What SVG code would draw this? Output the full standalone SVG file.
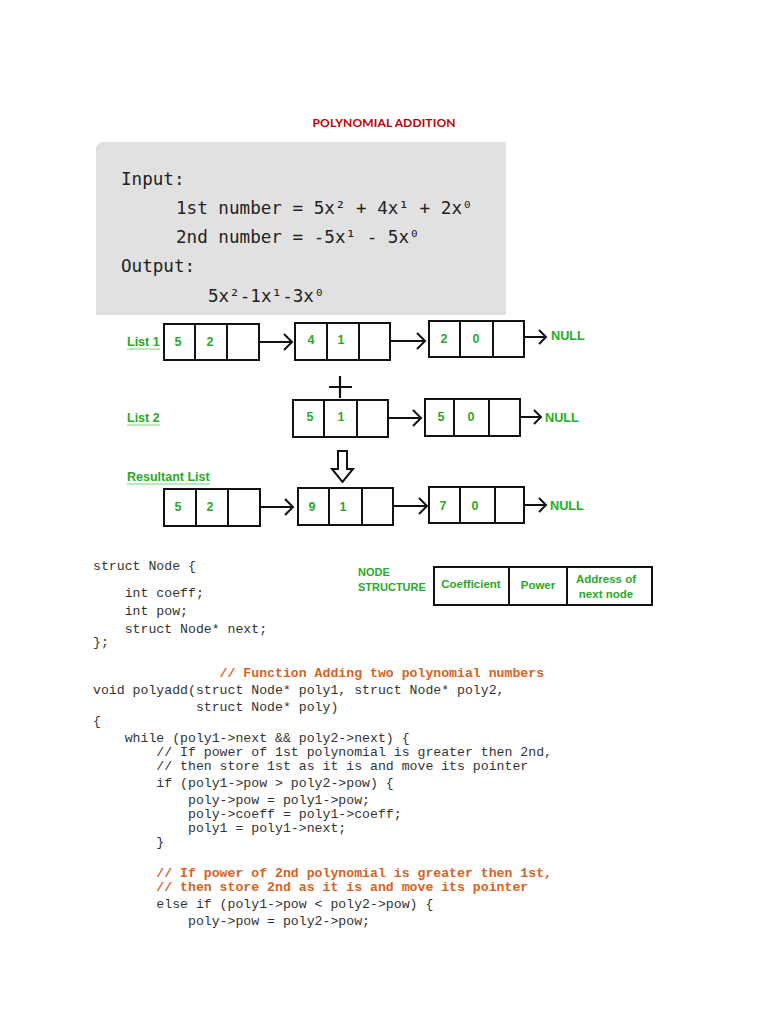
<svg xmlns="http://www.w3.org/2000/svg" width="768" height="1024" viewBox="0 0 768 1024">
<defs>
<style>
.title{font-family:"Lato","Liberation Sans",sans-serif;font-weight:bold;font-size:12px;fill:#c00000}
.inp{font-family:"DejaVu Sans Mono","Liberation Mono",monospace;font-size:17.6px;fill:#222}
.sup{font-size:13px}
.lbl{font-family:"Liberation Sans",sans-serif;font-weight:bold;font-size:12.5px;fill:#2aa82a}
.nul{font-family:"Liberation Sans",sans-serif;font-weight:bold;font-size:12.7px;fill:#22b022}
.ns{font-family:"Liberation Sans",sans-serif;font-weight:bold;font-size:11px;fill:#2aa82a}
.val{font-family:"Liberation Sans",sans-serif;font-weight:bold;font-size:12.5px;fill:#2aa82a;text-anchor:middle}
.sv{font-family:"Liberation Sans",sans-serif;font-weight:bold;font-size:11.5px;fill:#2aa82a;text-anchor:middle}
.box{fill:#fff;stroke:#111;stroke-width:2}
.div{stroke:#111;stroke-width:2}
.arr{fill:none;stroke:#111;stroke-width:2}
.code{font-family:"Liberation Mono",monospace;font-size:13.2px;fill:#333;white-space:pre}
.cmt{font-family:"Liberation Mono",monospace;font-size:13.2px;fill:#d9621c;font-weight:bold;white-space:pre}
.ul{stroke:#7fd07f;stroke-width:1}
</style>
</defs>
<rect width="768" height="1024" fill="#fff"/>
<text class="title" x="384" y="127" text-anchor="middle" textLength="143">POLYNOMIAL ADDITION</text>

<g id="input-box">
<path d="M104 142 H506 V315 H96 V150 Q96 142 104 142 Z" fill="#e1e1e1"/>
<text class="inp" x="121" y="185">Input:</text>
<text class="inp" x="176" y="214">1st number = 5x² + 4x¹ + 2x⁰</text>
<text class="inp" x="176" y="243">2nd number = -5x¹ - 5x⁰</text>
<text class="inp" x="121" y="272">Output:</text>
<text class="inp" x="208" y="302">5x²-1x¹-3x⁰</text>
</g>

<g id="labels">
<text class="lbl" x="127" y="346">List 1</text>
<line class="ul" x1="127" y1="349" x2="160" y2="349"/>
<text class="lbl" x="127" y="422">List 2</text>
<line class="ul" x1="127" y1="425" x2="160" y2="425"/>
<text class="lbl" x="127" y="481">Resultant List</text>
<line class="ul" x1="127" y1="484" x2="210" y2="484"/>
</g>

<g id="l1n1"><rect class="box" x="164" y="324" width="95" height="36"/><line class="div" x1="195" y1="324" x2="195" y2="360"/><line class="div" x1="227" y1="324" x2="227" y2="360"/><text class="val" x="178" y="346">5</text><text class="val" x="210" y="346">2</text></g>
<g id="l1n2"><rect class="box" x="295" y="323" width="95" height="37"/><line class="div" x1="327" y1="323" x2="327" y2="360"/><line class="div" x1="359" y1="323" x2="359" y2="360"/><text class="val" x="311" y="344">4</text><text class="val" x="341" y="344">1</text></g>
<g id="l1n3"><rect class="box" x="429" y="321" width="95" height="36"/><line class="div" x1="460" y1="321" x2="460" y2="357"/><line class="div" x1="493" y1="321" x2="493" y2="357"/><text class="val" x="444" y="343">2</text><text class="val" x="476" y="343">0</text></g>

<g id="l2n1"><rect class="box" x="293" y="400" width="95" height="37"/><line class="div" x1="324" y1="400" x2="324" y2="437"/><line class="div" x1="357" y1="400" x2="357" y2="437"/><text class="val" x="310" y="421">5</text><text class="val" x="341" y="421">1</text></g>
<g id="l2n2"><rect class="box" x="425" y="399" width="95" height="37"/><line class="div" x1="454" y1="399" x2="454" y2="436"/><line class="div" x1="489" y1="399" x2="489" y2="436"/><text class="val" x="441" y="421">5</text><text class="val" x="471" y="421">0</text></g>

<g id="r1"><rect class="box" x="164" y="489" width="96" height="37"/><line class="div" x1="196" y1="489" x2="196" y2="526"/><line class="div" x1="228" y1="489" x2="228" y2="526"/><text class="val" x="178" y="511">5</text><text class="val" x="210" y="511">2</text></g>
<g id="r2"><rect class="box" x="298" y="488" width="95" height="37"/><line class="div" x1="329" y1="488" x2="329" y2="525"/><line class="div" x1="362" y1="488" x2="362" y2="525"/><text class="val" x="312" y="511">9</text><text class="val" x="343" y="511">1</text></g>
<g id="r3"><rect class="box" x="429" y="487" width="95" height="36"/><line class="div" x1="460" y1="487" x2="460" y2="523"/><line class="div" x1="495" y1="487" x2="495" y2="523"/><text class="val" x="443" y="510">7</text><text class="val" x="475" y="510">0</text></g>

<g id="nulls">
<text class="nul" x="551" y="340">NULL</text>
<text class="nul" x="545" y="422">NULL</text>
<text class="nul" x="550" y="510">NULL</text>
</g>

<g id="connectors">
<path class="arr" d="M259 342 H291 M284 334 L292 342 L284 350"/>
<path class="arr" d="M390 341 H424 M417 333 L425 341 L417 349"/>
<path class="arr" d="M524 337 H545 M539 330 L546 337 L539 344"/>
<path class="arr" d="M388 418 H420 M413 410 L421 418 L413 426"/>
<path class="arr" d="M520 417 H540 M534 410 L541 417 L534 424"/>
<path class="arr" d="M260 507 H292 M285 499 L293 507 L285 515"/>
<path class="arr" d="M393 506 H426 M419 498 L427 506 L419 514"/>
<path class="arr" d="M524 505 H545 M539 498 L546 505 L539 512"/>
<path d="M329 387 H352 M340 376 V398" fill="none" stroke="#111" stroke-width="2.2"/>
<path d="M338 451 H347 V469 H353 L342.5 482 L332 469 H338 Z" fill="#fff" stroke="#111" stroke-width="2"/>
</g>

<g id="node-structure">
<text class="ns" x="358" y="576">NODE</text>
<text class="ns" x="358" y="591">STRUCTURE</text>
<rect class="box" x="434" y="567" width="218" height="38"/>
<line class="div" x1="509" y1="567" x2="509" y2="605"/>
<line class="div" x1="567" y1="567" x2="567" y2="605"/>
<text class="sv" x="471" y="588">Coefficient</text>
<text class="sv" x="538" y="589">Power</text>
<text class="sv" x="606" y="583">Address of</text>
<text class="sv" x="606" y="598">next  node</text>
</g>

<g id="code">
<text class="code" x="93" y="570">struct Node {</text>
<text class="code" x="93" y="597">    int coeff;</text>
<text class="code" x="93" y="615">    int pow;</text>
<text class="code" x="93" y="633">    struct Node* next;</text>
<text class="code" x="93" y="646">};</text>
<text class="cmt" x="93" y="677">                // Function Adding two polynomial numbers</text>
<text class="code" x="93" y="694">void polyadd(struct Node* poly1, struct Node* poly2,</text>
<text class="code" x="93" y="711">             struct Node* poly)</text>
<text class="code" x="93" y="725">{</text>
<text class="code" x="93" y="742">    while (poly1-&gt;next &amp;&amp; poly2-&gt;next) {</text>
<text class="code" x="93" y="756">        // If power of 1st polynomial is greater then 2nd,</text>
<text class="code" x="93" y="770">        // then store 1st as it is and move its pointer</text>
<text class="code" x="93" y="787">        if (poly1-&gt;pow &gt; poly2-&gt;pow) {</text>
<text class="code" x="93" y="804">            poly-&gt;pow = poly1-&gt;pow;</text>
<text class="code" x="93" y="818">            poly-&gt;coeff = poly1-&gt;coeff;</text>
<text class="code" x="93" y="832">            poly1 = poly1-&gt;next;</text>
<text class="code" x="93" y="846">        }</text>
<text class="cmt" x="93" y="877">        // If power of 2nd polynomial is greater then 1st,</text>
<text class="cmt" x="93" y="891">        // then store 2nd as it is and move its pointer</text>
<text class="code" x="93" y="908">        else if (poly1-&gt;pow &lt; poly2-&gt;pow) {</text>
<text class="code" x="93" y="925">            poly-&gt;pow = poly2-&gt;pow;</text>
</g>
</svg>
